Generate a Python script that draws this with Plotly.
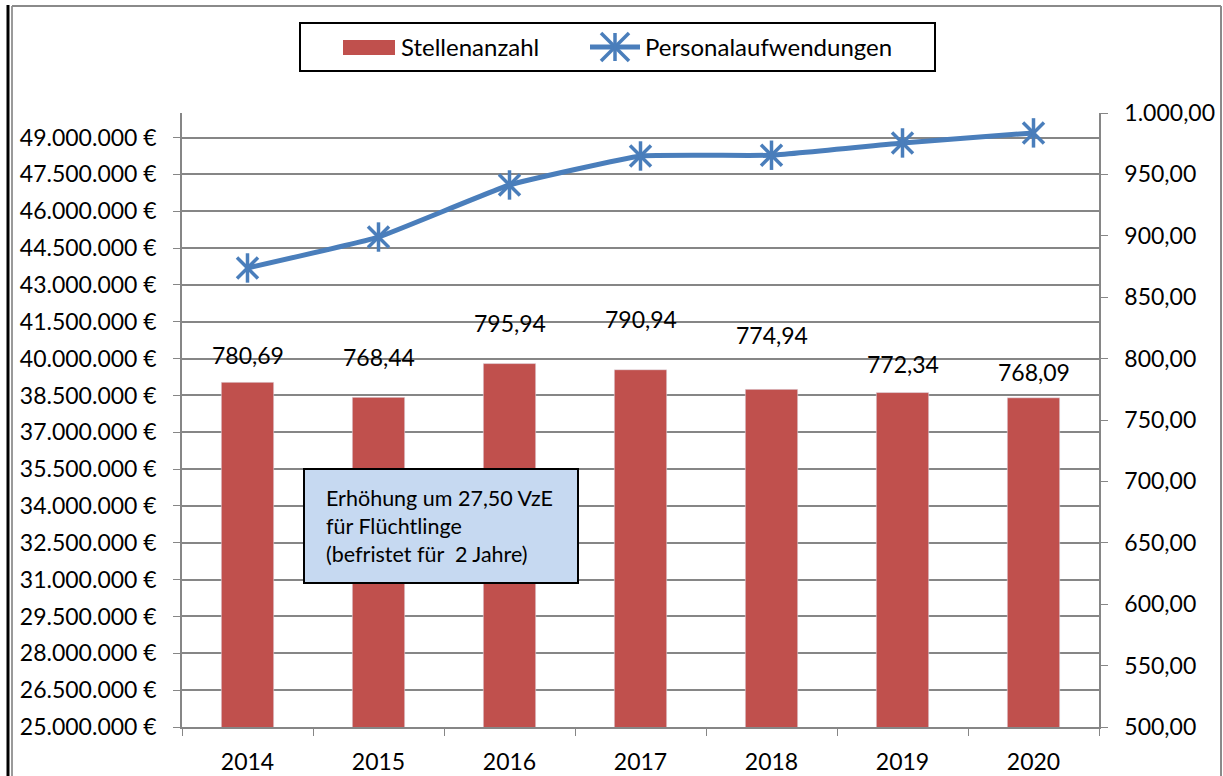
import plotly.graph_objects as go

years = ["2014", "2015", "2016", "2017", "2018", "2019", "2020"]
stellen = [780.69, 768.44, 795.94, 790.94, 774.94, 772.34, 768.09]
personal = [43690000, 44950000, 47070000, 48250000, 48280000, 48780000, 49190000]
label_shift = [27, 40, 41, 51, 54, 29, 26]

FONT = "Lato"
BAR_C = "#C0504D"
LINE_C = "#4A7EBB"
GRID_C = "#868686"

L, R, T, B = 182, 1099, 113, 727
W, H = R - L, B - T
def px(x): return (x - L) / W
def py(y): return (B - y) / H

fig = go.Figure()
fig.add_trace(go.Bar(x=years, y=stellen, yaxis="y2", marker_color=BAR_C,
                     width=0.4, name="Stellenanzahl", showlegend=False))
fig.add_trace(go.Scatter(x=years, y=personal, yaxis="y", mode="lines",
                         line=dict(color=LINE_C, width=5, shape="spline", smoothing=0.3),
                         name="Personalaufwendungen", showlegend=False))
for sym in ["x-thin-open", "line-ns-open"]:
    fig.add_trace(go.Scatter(x=years, y=personal, yaxis="y", mode="markers",
                             marker=dict(symbol=sym, size=21, color=LINE_C,
                                         line=dict(color=LINE_C, width=3.5)),
                             showlegend=False, cliponaxis=False, hoverinfo="skip"))

def fmt(v):
    return f"{v:,.2f}".replace(",", "X").replace(".", ",").replace("X", ".")

annotations = []
for i, (v, s) in enumerate(zip(stellen, label_shift)):
    annotations.append(dict(x=i, y=v, xref="x", yref="y2", yshift=s, showarrow=False,
                            text=fmt(v), font=dict(family=FONT, size=23, color="black"),
                            yanchor="middle"))

# legend (custom)
annotations.append(dict(x=px(399), y=py(47), xref="paper", yref="paper", xanchor="left",
                        yanchor="middle", showarrow=False, text="Stellenanzahl",
                        font=dict(family=FONT, size=24, color="black")))
annotations.append(dict(x=px(643), y=py(47), xref="paper", yref="paper", xanchor="left",
                        yanchor="middle", showarrow=False, text="Personalaufwendungen",
                        font=dict(family=FONT, size=24, color="black")))
# text box
annotations.append(dict(x=px(324), y=py(526), xref="paper", yref="paper", xanchor="left",
                        yanchor="middle", showarrow=False, align="left",
                        text="Erhöhung um 27,50 VzE<br>für Flüchtlinge<br>(befristet für  2 Jahre)",
                        font=dict(family=FONT, size=21.5, color="black")))

shapes = [
    # outer frame
    dict(type="line", xref="paper", yref="paper", x0=px(8), x1=px(8), y0=py(776), y1=py(5),
         line=dict(color="black", width=3)),
    dict(type="line", xref="paper", yref="paper", x0=px(12), x1=px(12), y0=py(776), y1=py(6),
         line=dict(color="#9a9a9a", width=2)),
    dict(type="line", xref="paper", yref="paper", x0=px(12), x1=px(1221), y0=py(6), y1=py(6),
         line=dict(color="#8a8a8a", width=2)),
    dict(type="line", xref="paper", yref="paper", x0=px(1221), x1=px(1221), y0=py(776), y1=py(6),
         line=dict(color="#8a8a8a", width=2)),
    # legend box
    dict(type="rect", xref="paper", yref="paper", x0=px(300), x1=px(935), y0=py(71), y1=py(23),
         line=dict(color="black", width=2), fillcolor="white"),
    dict(type="rect", xref="paper", yref="paper", x0=px(343), x1=px(395), y0=py(55), y1=py(40),
         line=dict(width=0), fillcolor=BAR_C),
    dict(type="line", xref="paper", yref="paper", x0=px(590), x1=px(640), y0=py(47), y1=py(47),
         line=dict(color=LINE_C, width=5)),
    dict(type="line", xref="paper", yref="paper", x0=px(601), x1=px(629), y0=py(33), y1=py(61),
         line=dict(color=LINE_C, width=3.5)),
    dict(type="line", xref="paper", yref="paper", x0=px(601), x1=px(629), y0=py(61), y1=py(33),
         line=dict(color=LINE_C, width=3.5)),
    dict(type="line", xref="paper", yref="paper", x0=px(615), x1=px(615), y0=py(33), y1=py(61),
         line=dict(color=LINE_C, width=3.5)),
    # note box
    dict(type="rect", xref="paper", yref="paper", x0=px(304), x1=px(578), y0=py(583), y1=py(469),
         line=dict(color="black", width=2), fillcolor="#C6D9F1", layer="above"),
]

fig.update_layout(
    width=1223, height=776,
    margin=dict(l=L, r=1223 - R, t=T, b=776 - B, autoexpand=False),
    paper_bgcolor="white", plot_bgcolor="white",
    separators=",.",
    showlegend=False,
    font=dict(family=FONT, size=23, color="black"),
    xaxis=dict(type="category", categoryorder="array", categoryarray=years,
               range=[-0.5, 6.5], autorange=False, tickangle=0,
               tickson="boundaries", ticks="outside", ticklen=7, automargin=False,
               tickcolor=GRID_C, showline=True, linecolor=GRID_C, linewidth=1.5,
               showgrid=False, tickfont=dict(family=FONT, size=23, color="black"),
               ticklabelstandoff=14),
    yaxis=dict(range=[25000000, 50000000], autorange=False, tick0=25000000, dtick=1500000,
               tickformat=",.0f", ticksuffix=" €", showgrid=True, gridcolor=GRID_C,
               gridwidth=1.5, showline=True, linecolor=GRID_C, linewidth=1.5,
               ticks="outside", ticklen=7, tickcolor=GRID_C, zeroline=False, automargin=False,
               tickfont=dict(family=FONT, size=23, color="black"), ticklabelstandoff=12),
    yaxis2=dict(range=[500, 1000], autorange=False, tick0=500, dtick=50, tickformat=",.2f",
                overlaying="y", side="right", showgrid=False, showline=True,
                linecolor=GRID_C, linewidth=1.5, ticks="outside", ticklen=7,
                tickcolor=GRID_C, zeroline=False, automargin=False,
                tickfont=dict(family=FONT, size=23, color="black"), ticklabelstandoff=12),
    annotations=annotations,
    shapes=shapes,
)

fig.write_html("out.html", config={"displayModeBar": False},
               post_script="document.body.style.margin='0';document.body.style.overflow='hidden';")
